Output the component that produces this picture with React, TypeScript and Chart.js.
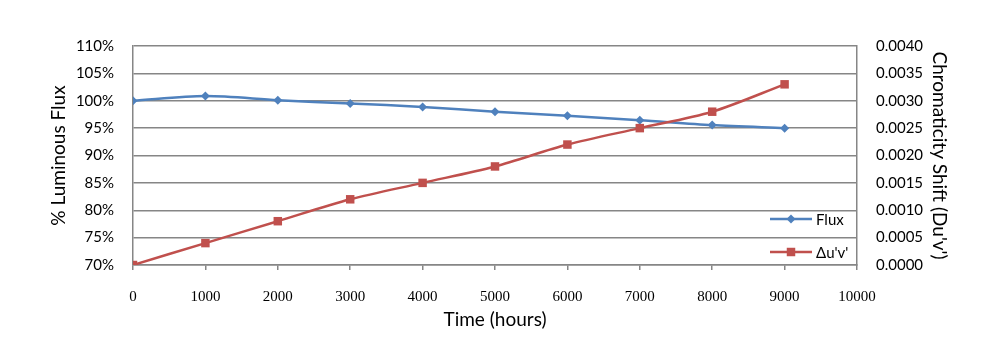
import React, { useEffect, useRef } from 'react';
import { Chart, registerables } from 'chart.js';

Chart.register(...registerables);

const hours = [0, 1000, 2000, 3000, 4000, 5000, 6000, 7000, 8000, 9000];
const fluxPct = [100, 100.85, 100.1, 99.5, 98.87, 97.98, 97.25, 96.45, 95.55, 95.0];
const deltaUV = [0, 0.0004, 0.0008, 0.0012, 0.0015, 0.0018, 0.0022, 0.0025, 0.0028, 0.0033];
const seriesNames = ['Flux', "\u0394u'v'"];
const axisTitles = ['% Luminous Flux', "Chromaticity Shift (Du'v')", 'Time (hours)'];

const BLUE = '#4F81BD';
const RED = '#C0504D';
const GRID = '#868686';
const FONT = 'Lato, "Open Sans", sans-serif';
const XFONT = '"Liberation Serif", "DejaVu Serif", serif';

function drawMarker(ctx: CanvasRenderingContext2D, style: string, r: number, x: number, y: number) {
  ctx.beginPath();
  if (style === 'rect') {
    const s = Math.SQRT1_2 * r;
    ctx.rect(x - s, y - s, 2 * s, 2 * s);
  } else {
    const s = r;
    ctx.moveTo(x, y - s);
    ctx.lineTo(x + s, y);
    ctx.lineTo(x, y + s);
    ctx.lineTo(x - s, y);
    ctx.closePath();
  }
  ctx.fill();
}

const legendPlugin = {
  id: 'insideLegend',
  afterDatasetsDraw(chart: any) {
    const ctx = chart.ctx;
    const rows = [
      { ds: chart.data.datasets[1], y: 219 },
      { ds: chart.data.datasets[0], y: 252 },
    ];
    ctx.save();
    for (const r of rows) {
      const ds = r.ds;
      ctx.strokeStyle = ds.borderColor;
      ctx.lineWidth = ds.borderWidth;
      ctx.beginPath();
      ctx.moveTo(770, r.y);
      ctx.lineTo(812, r.y);
      ctx.stroke();
      ctx.fillStyle = ds.backgroundColor;
      drawMarker(ctx, ds.pointStyle, ds.pointRadius, 791, r.y);
      ctx.fillStyle = '#000';
      ctx.font = '15px ' + FONT;
      ctx.textBaseline = 'middle';
      ctx.textAlign = 'left';
      ctx.fillText(ds.label, 816, r.y + 1);
    }
    ctx.restore();
  },
};

export default function App() {
  const ref = useRef<HTMLCanvasElement | null>(null);
  useEffect(() => {
    const canvas = ref.current;
    if (!canvas) return;
    const titleFont = { family: FONT, size: 19 };
    const tickFont = { family: FONT, size: 15 };
    const chart = new Chart(canvas, {
      type: 'line',
      data: {
        datasets: [
          {
            label: seriesNames[1],
            data: hours.map((h, i) => ({ x: h, y: deltaUV[i] })),
            yAxisID: 'y1',
            borderColor: RED,
            backgroundColor: RED,
            borderWidth: 2.5,
            pointStyle: 'rect',
            pointRadius: 6,
            pointBorderWidth: 0,
            tension: 0.3,
            order: 0,
          },
          {
            label: seriesNames[0],
            data: hours.map((h, i) => ({ x: h, y: fluxPct[i] })),
            yAxisID: 'y',
            borderColor: BLUE,
            backgroundColor: BLUE,
            borderWidth: 2.5,
            pointStyle: 'rectRot',
            pointRadius: 4.5,
            pointBorderWidth: 0,
            tension: 0.3,
            order: 1,
          },
        ],
      },
      options: {
        responsive: false,
        animation: false,
        layout: { padding: { left: 43, right: 53, top: 46, bottom: 24 } },
        plugins: { legend: { display: false }, tooltip: { enabled: false } },
        scales: {
          x: {
            type: 'linear',
            min: 0,
            max: 10000,
            afterFit: (s: any) => { s.height = 70; },
            ticks: {
              stepSize: 1000,
              color: '#000',
              font: { family: XFONT, size: 15 },
              padding: 18,
              maxRotation: 0,
              callback: (v: any) => String(v),
            },
            grid: { display: true, drawOnChartArea: false, drawTicks: true, tickLength: 5, color: GRID, lineWidth: 1.5 },
            border: { display: true, color: GRID, width: 1.5 },
            title: { display: true, text: axisTitles[2], color: '#000', font: titleFont, padding: { top: 4, bottom: 4 } },
          },
          y: {
            position: 'left',
            min: 70,
            max: 110,
            afterFit: (s: any) => { s.width = 90; },
            ticks: {
              stepSize: 5,
              color: '#000',
              font: tickFont,
              padding: 19,
              callback: (v: any) => v + '%',
            },
            grid: { color: GRID, lineWidth: 1.5, drawTicks: false },
            border: { display: true, color: GRID, width: 1.5 },
            title: { display: true, text: axisTitles[0], color: '#000', font: titleFont, padding: { top: 4, bottom: 4 } },
          },
          y1: {
            position: 'right',
            min: 0,
            max: 0.004,
            afterFit: (s: any) => { s.width = 98; },
            ticks: {
              stepSize: 0.0005,
              color: '#000',
              font: tickFont,
              padding: 19,
              callback: (v: any) => Number(v).toFixed(4),
            },
            grid: { drawOnChartArea: false, drawTicks: false, color: GRID },
            border: { display: true, color: GRID, width: 1.5 },
            title: { display: true, text: axisTitles[1], color: '#000', font: titleFont, padding: { top: 4, bottom: 4 } },
          },
        },
      },
      plugins: [legendPlugin],
    } as any);
    return () => chart.destroy();
  }, []);
  return (
    <div style={{ position: 'absolute', left: 0, top: 0, width: 1008, height: 359, background: '#fff' }}>
      <canvas ref={ref} width={1008} height={359} />
    </div>
  );
}
